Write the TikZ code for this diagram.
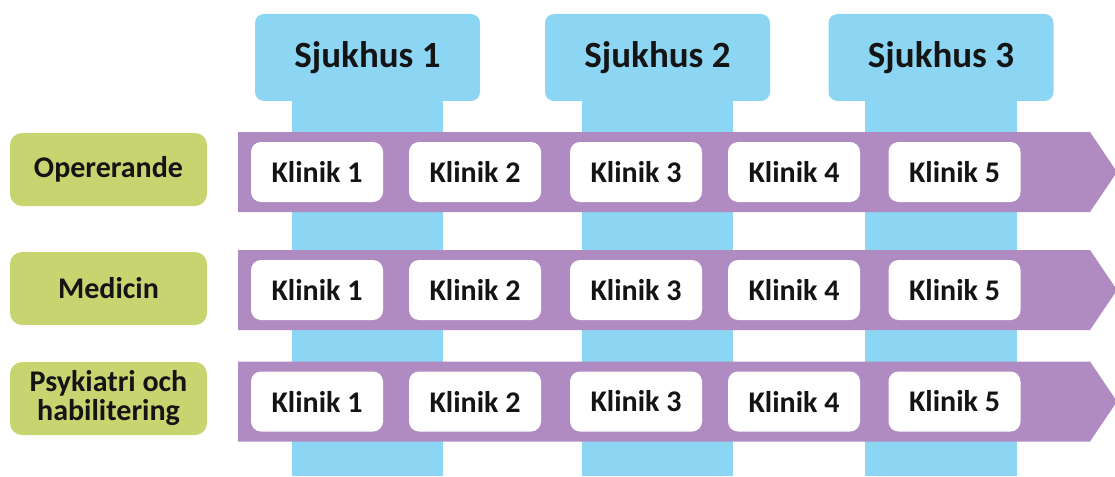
\documentclass[tikz,border=0pt]{standalone}
\usepackage{fontspec}
\setmainfont{Carlito}
\definecolor{skyb}{HTML}{8CD6F4}
\definecolor{purp}{HTML}{B08BC1}
\definecolor{leaf}{HTML}{C7D46F}
\definecolor{ink}{HTML}{141414}
\begin{document}
\begin{tikzpicture}[x=1pt,y=-1pt,
  hosp/.style={fill=skyb, rounded corners=9pt, minimum width=225pt, minimum height=87pt, inner sep=0pt, text=ink, font=\fontsize{37}{40}\selectfont\bfseries},
  stem/.style={fill=skyb, draw=none},
  band/.style={fill=purp, draw=none},
  area/.style={fill=leaf, rounded corners=12pt, minimum width=197pt, minimum height=73pt, inner sep=0pt, text=ink, align=center, font=\fontsize{30}{29}\selectfont\bfseries},
  clinic/.style={fill=white, rounded corners=10pt, minimum width=132pt, minimum height=60pt, inner sep=0pt, text=ink, font=\fontsize{30}{32}\selectfont\bfseries}]
\useasboundingbox (0,0) rectangle (1115,476);
% stems
\fill[stem] (292,95) rectangle (443,476);
\fill[stem] (582,95) rectangle (733,476);
\fill[stem] (865,95) rectangle (1017,476);
% hospital headers
\node[hosp] (h1) at (367.5,57.5) {Sjukhus 1};
\node[hosp] (h2) at (657.5,57.5) {Sjukhus 2};
\node[hosp] (h3) at (941,57.5) {Sjukhus 3};
% bands
\foreach \r/\yc in {1/172, 2/290, 3/401.5} {
  \fill[band] (238,\yc-40) -- (1090,\yc-40) -- (1117,\yc) -- (1090,\yc+40) -- (238,\yc+40) -- cycle;
}
% areas
\node[area] (a1) at (108.5,169.5) {\raisebox{-2pt}{Opererande}};
\node[area] (a2) at (108.5,288.5) {Medicin};
\node[area] (a3) at (108.5,398.5) {Psykiatri och\\habilitering};
% clinics
\foreach \r/\yc in {1/172, 2/290, 3/401.5} {
  \node[clinic] (k\r-1) at (317,\yc) {Klinik 1};
  \node[clinic] (k\r-2) at (475,\yc) {Klinik 2};
  \node[clinic] (k\r-3) at (636,\yc) {Klinik 3};
  \node[clinic] (k\r-4) at (794,\yc) {Klinik 4};
  \node[clinic] (k\r-5) at (954.5,\yc) {Klinik 5};
}
\end{tikzpicture}
\end{document}
